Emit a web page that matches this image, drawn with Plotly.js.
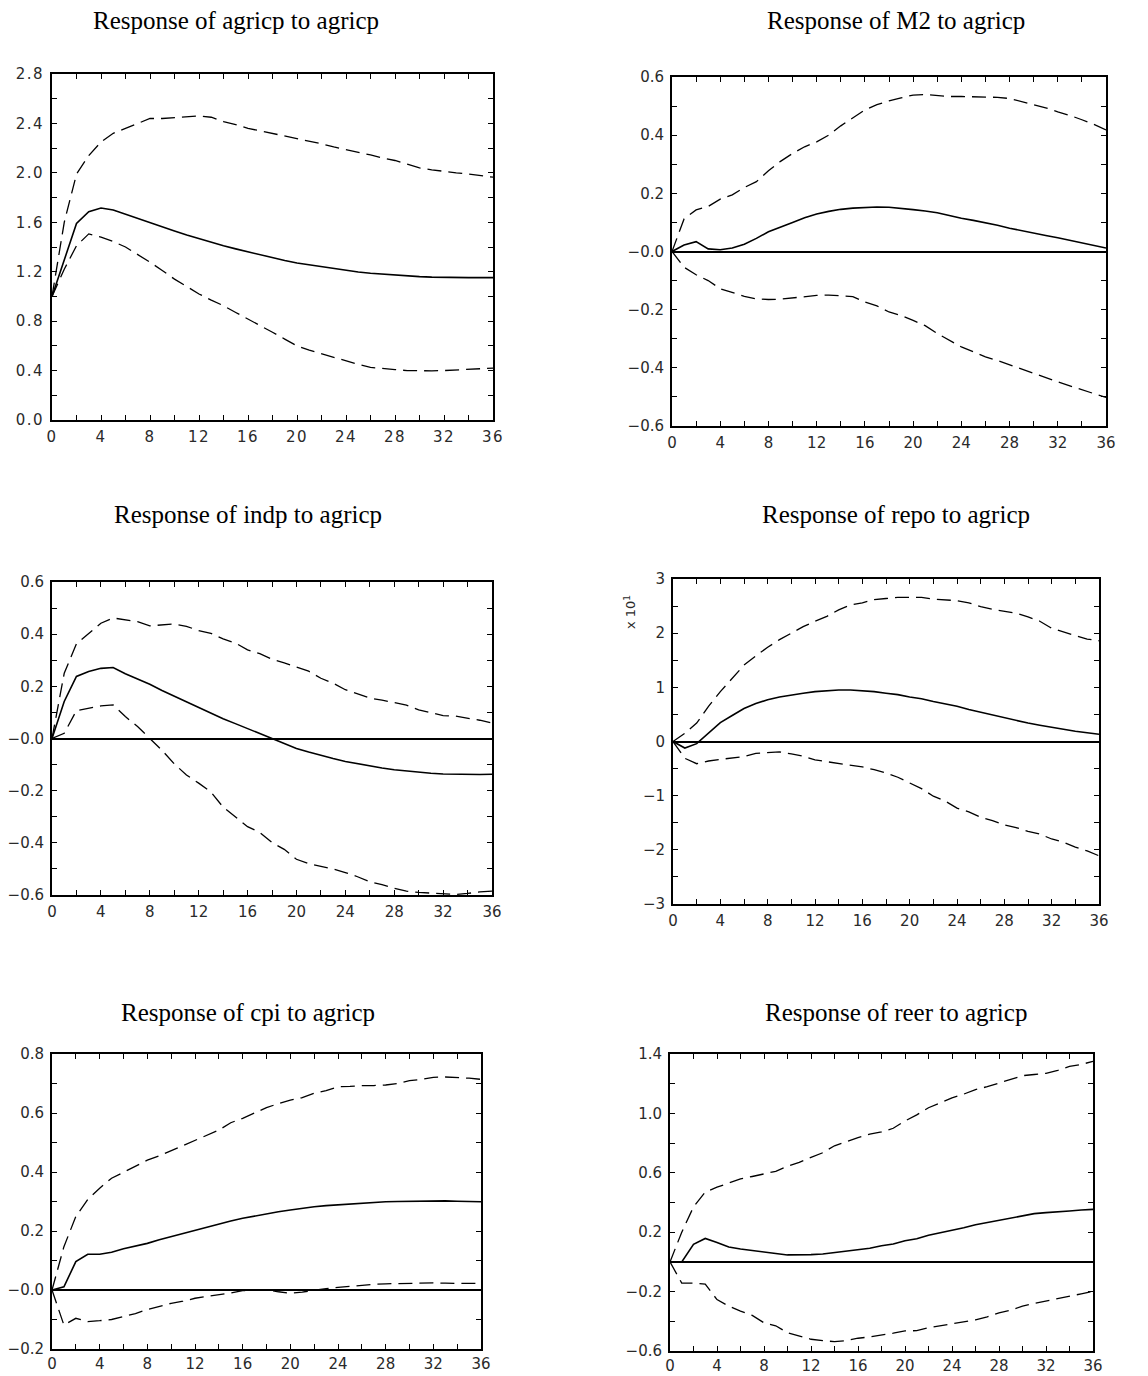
<!DOCTYPE html>
<html>
<head>
<meta charset="utf-8">
<script src="https://cdn.plot.ly/plotly-3.0.1.min.js"></script>
<style>
  html, body { margin: 0; padding: 0; background: #ffffff; }
  #chart { width: 1148px; height: 1376px; }
  #chart .xtick text, #chart .ytick text { letter-spacing: 1.5px; }
</style>
</head>
<body>
<div id="chart"></div>
<script>
// ---------------- DATA ----------------
const periods = [0,1,2,3,4,5,6,7,8,9,10,11,12,13,14,15,16,17,18,19,20,21,22,23,24,25,26,27,28,29,30,31,32,33,34,35,36];

const titles = [
  "Response of agricp to agricp",
  "Response of M2 to agricp",
  "Response of indp to agricp",
  "Response of repo to agricp",
  "Response of cpi to agricp",
  "Response of reer to agricp"
];

// agricp -> agricp
const agricpResp  = [1.0,1.30,1.59,1.685,1.715,1.70,1.665,1.632,1.60,1.565,1.53,1.497,1.466,1.44,1.41,1.385,1.36,1.335,1.31,1.29,1.27,1.255,1.24,1.225,1.21,1.198,1.188,1.18,1.173,1.166,1.16,1.156,1.153,1.152,1.152,1.152,1.152];
const agricpUpper = [1.0,1.60,1.99,2.14,2.25,2.32,2.36,2.40,2.44,2.44,2.445,2.455,2.46,2.45,2.415,2.39,2.36,2.34,2.32,2.30,2.275,2.255,2.235,2.21,2.19,2.165,2.145,2.12,2.10,2.07,2.04,2.025,2.01,2.00,1.99,1.975,1.965];
const agricpLower = [1.0,1.22,1.41,1.506,1.48,1.444,1.40,1.34,1.277,1.21,1.14,1.08,1.02,0.97,0.925,0.87,0.818,0.765,0.71,0.655,0.60,0.565,0.535,0.505,0.48,0.45,0.426,0.415,0.408,0.40,0.397,0.398,0.40,0.405,0.41,0.415,0.42];

// M2 -> agricp
const m2Resp  = [0,0.022,0.034,0.009,0.006,0.012,0.025,0.045,0.068,0.085,0.10,0.116,0.129,0.138,0.145,0.149,0.152,0.153,0.152,0.149,0.144,0.139,0.133,0.124,0.114,0.107,0.099,0.09,0.08,0.071,0.063,0.055,0.047,0.038,0.030,0.021,0.012];
const m2Upper = [0,0.112,0.143,0.155,0.18,0.195,0.22,0.24,0.278,0.31,0.337,0.36,0.377,0.40,0.432,0.46,0.487,0.505,0.518,0.528,0.538,0.54,0.537,0.533,0.533,0.532,0.531,0.530,0.526,0.515,0.506,0.494,0.48,0.468,0.453,0.437,0.418];
const m2Lower = [0,-0.054,-0.08,-0.10,-0.128,-0.142,-0.154,-0.163,-0.165,-0.164,-0.16,-0.157,-0.151,-0.15,-0.153,-0.155,-0.174,-0.187,-0.208,-0.22,-0.237,-0.255,-0.282,-0.305,-0.328,-0.345,-0.362,-0.375,-0.39,-0.404,-0.419,-0.433,-0.448,-0.462,-0.475,-0.49,-0.502];

// indp -> agricp
const indpResp  = [0,0.142,0.238,0.257,0.269,0.272,0.248,0.228,0.208,0.184,0.162,0.14,0.118,0.097,0.076,0.057,0.038,0.018,-0.002,-0.02,-0.038,-0.052,-0.065,-0.077,-0.088,-0.097,-0.106,-0.113,-0.12,-0.125,-0.13,-0.133,-0.136,-0.137,-0.138,-0.138,-0.137];
const indpUpper = [0,0.25,0.363,0.404,0.442,0.462,0.455,0.448,0.432,0.435,0.439,0.43,0.414,0.403,0.382,0.366,0.34,0.325,0.304,0.29,0.274,0.258,0.231,0.212,0.187,0.17,0.155,0.147,0.138,0.128,0.11,0.098,0.088,0.086,0.078,0.07,0.059];
const indpLower = [0,0.02,0.107,0.116,0.125,0.129,0.084,0.046,0.001,-0.045,-0.097,-0.14,-0.171,-0.205,-0.263,-0.30,-0.338,-0.36,-0.399,-0.425,-0.463,-0.48,-0.491,-0.50,-0.514,-0.53,-0.549,-0.56,-0.574,-0.585,-0.59,-0.593,-0.597,-0.598,-0.594,-0.588,-0.585];

// repo -> agricp (in units of 10^1)
const repoResp  = [0,-0.12,-0.04,0.15,0.35,0.48,0.61,0.70,0.77,0.82,0.86,0.89,0.92,0.94,0.95,0.95,0.935,0.92,0.89,0.865,0.82,0.79,0.74,0.70,0.65,0.59,0.54,0.48,0.43,0.385,0.34,0.30,0.26,0.225,0.19,0.16,0.135];
const repoUpper = [0,0.15,0.34,0.65,0.92,1.17,1.41,1.58,1.74,1.88,2.0,2.12,2.22,2.31,2.43,2.52,2.56,2.62,2.64,2.66,2.66,2.66,2.63,2.62,2.60,2.56,2.49,2.44,2.40,2.37,2.30,2.22,2.09,2.02,1.95,1.89,1.86];
const repoLower = [0,-0.31,-0.41,-0.36,-0.33,-0.31,-0.28,-0.22,-0.20,-0.19,-0.23,-0.27,-0.34,-0.37,-0.41,-0.43,-0.47,-0.52,-0.58,-0.66,-0.77,-0.87,-1.01,-1.10,-1.23,-1.30,-1.40,-1.46,-1.54,-1.59,-1.66,-1.71,-1.80,-1.86,-1.95,-2.02,-2.11];

// cpi -> agricp
const cpiResp  = [0,0.011,0.096,0.121,0.121,0.128,0.14,0.149,0.158,0.17,0.181,0.192,0.203,0.214,0.224,0.234,0.243,0.251,0.258,0.265,0.271,0.277,0.282,0.286,0.289,0.292,0.295,0.297,0.299,0.300,0.301,0.302,0.302,0.302,0.301,0.300,0.299];
const cpiUpper = [0,0.147,0.249,0.307,0.345,0.379,0.399,0.42,0.44,0.455,0.472,0.49,0.508,0.523,0.542,0.567,0.582,0.60,0.618,0.632,0.644,0.652,0.667,0.676,0.689,0.69,0.693,0.693,0.695,0.70,0.71,0.714,0.721,0.722,0.721,0.718,0.714];
const cpiLower = [0,-0.119,-0.096,-0.107,-0.104,-0.10,-0.09,-0.08,-0.066,-0.055,-0.045,-0.038,-0.028,-0.022,-0.017,-0.01,-0.002,0.0,0.0,-0.006,-0.011,-0.007,0.0,0.005,0.009,0.013,0.017,0.019,0.021,0.022,0.023,0.024,0.024,0.023,0.022,0.022,0.022];

// reer -> agricp
const reerResp  = [0,0.0,0.118,0.158,0.131,0.10,0.087,0.075,0.065,0.056,0.047,0.046,0.049,0.053,0.062,0.07,0.082,0.092,0.109,0.12,0.143,0.156,0.18,0.195,0.214,0.23,0.25,0.265,0.285,0.297,0.314,0.325,0.332,0.34,0.343,0.349,0.354];
const reerUpper = [0,0.20,0.37,0.47,0.503,0.53,0.559,0.575,0.592,0.61,0.644,0.67,0.704,0.735,0.782,0.81,0.837,0.86,0.875,0.90,0.949,0.99,1.038,1.07,1.105,1.13,1.16,1.18,1.205,1.225,1.254,1.262,1.27,1.29,1.316,1.33,1.35];
const reerLower = [0,-0.143,-0.143,-0.15,-0.254,-0.298,-0.332,-0.36,-0.41,-0.43,-0.477,-0.50,-0.521,-0.53,-0.537,-0.53,-0.514,-0.505,-0.494,-0.48,-0.465,-0.463,-0.443,-0.43,-0.416,-0.405,-0.39,-0.37,-0.343,-0.325,-0.298,-0.28,-0.265,-0.25,-0.232,-0.215,-0.198];

// tick labels
const xTickVals = [0,2,4,6,8,10,12,14,16,18,20,22,24,26,28,30,32,34,36];
const xTickText = ["0","","4","","8","","12","","16","","20","","24","","28","","32","","36"];

const yTickVals1 = [0,0.2,0.4,0.6,0.8,1.0,1.2,1.4,1.6,1.8,2.0,2.2,2.4,2.6,2.8];
const yTickText1 = ["0.0","","0.4","","0.8","","1.2","","1.6","","2.0","","2.4","","2.8"];
const yTickVals2 = [-0.6,-0.5,-0.4,-0.3,-0.2,-0.1,0,0.1,0.2,0.3,0.4,0.5,0.6];
const yTickText2 = ["\u22120.6","","\u22120.4","","\u22120.2","","\u22120.0","","0.2","","0.4","","0.6"];
const yTickVals4 = [-3,-2.5,-2,-1.5,-1,-0.5,0,0.5,1,1.5,2,2.5,3];
const yTickText4 = ["\u22123","","\u22122","","\u22121","","0","","1","","2","","3"];
const yTickVals5 = [-0.2,-0.1,0,0.1,0.2,0.3,0.4,0.5,0.6,0.7,0.8];
const yTickText5 = ["\u22120.2","","\u22120.0","","0.2","","0.4","","0.6","","0.8"];
const yTickVals6 = [-0.6,-0.4,-0.2,0,0.2,0.4,0.6,0.8,1.0,1.2,1.4];
const yTickText6 = ["\u22120.6","","\u22120.2","","0.2","","0.6","","1.0","","1.4"];

const repoScaleLabel = "x 10<sup>1</sup>";

// ---------------- LAYOUT ----------------
const W = 1148, H = 1376;
const px = v => v / W;
const py = v => 1 - v / H;

const panels = [
  {resp: agricpResp, up: agricpUpper, lo: agricpLower, x0: 52,  x1: 493,  y0: 74,   y1: 420,  yr: [0, 2.8],   tv: yTickVals1, tt: yTickText1, zero: false, tx: 236, ty: 20,   xs: 2},
  {resp: m2Resp,     up: m2Upper,     lo: m2Lower,     x0: 672, x1: 1106, y0: 77,   y1: 426,  yr: [-0.6, 0.6], tv: yTickVals2, tt: yTickText2, zero: true,  tx: 896, ty: 20,   xs: 2},
  {resp: indpResp,   up: indpUpper,   lo: indpLower,   x0: 52,  x1: 492,  y0: 582,  y1: 895,  yr: [-0.6, 0.6], tv: yTickVals2, tt: yTickText2, zero: true,  tx: 248, ty: 515,  xs: 2},
  {resp: repoResp,   up: repoUpper,   lo: repoLower,   x0: 673, x1: 1099, y0: 579,  y1: 904,  yr: [-3, 3],     tv: yTickVals4, tt: yTickText4, zero: true,  tx: 896, ty: 515,  xs: 2},
  {resp: cpiResp,    up: cpiUpper,    lo: cpiLower,    x0: 52,  x1: 481,  y0: 1054, y1: 1349, yr: [-0.2, 0.8], tv: yTickVals5, tt: yTickText5, zero: true,  tx: 248, ty: 1012, xs: 0},
  {resp: reerResp,   up: reerUpper,   lo: reerLower,   x0: 670, x1: 1093, y0: 1054, y1: 1351, yr: [-0.6, 1.4], tv: yTickVals6, tt: yTickText6, zero: true,  tx: 896, ty: 1012, xs: 0}
];

const tickFont = {family: "DejaVu Sans", size: 15, color: "#2a2a2a"};
const traces = [];
const layout = {
  width: W, height: H,
  margin: {l: 0, r: 0, t: 0, b: 0},
  paper_bgcolor: "#ffffff",
  plot_bgcolor: "#ffffff",
  showlegend: false,
  annotations: []
};

panels.forEach((p, i) => {
  const n = i + 1;
  const xa = "x" + (n === 1 ? "" : n);
  const ya = "y" + (n === 1 ? "" : n);
  const xKey = "xaxis" + (n === 1 ? "" : n);
  const yKey = "yaxis" + (n === 1 ? "" : n);

  traces.push({x: periods, y: p.up, xaxis: xa, yaxis: ya, type: "scatter", mode: "lines",
    line: {color: "#000", width: 1.3, dash: "14px,7px"}, hoverinfo: "skip"});
  traces.push({x: periods, y: p.lo, xaxis: xa, yaxis: ya, type: "scatter", mode: "lines",
    line: {color: "#000", width: 1.3, dash: "14px,7px"}, hoverinfo: "skip"});
  traces.push({x: periods, y: p.resp, xaxis: xa, yaxis: ya, type: "scatter", mode: "lines",
    line: {color: "#000", width: 1.6}, hoverinfo: "skip"});

  layout[xKey] = {
    domain: [px(p.x0), px(p.x1)], anchor: ya, range: [0, 36],
    showgrid: false, zeroline: false,
    showline: true, linecolor: "#000", linewidth: 2, mirror: "ticks",
    ticks: "inside", ticklen: 5, tickwidth: 1, tickcolor: "#000",
    tickmode: "array", tickvals: xTickVals, ticktext: xTickText,
    tickfont: tickFont, ticklabelstandoff: p.xs, fixedrange: true
  };
  layout[yKey] = {
    domain: [py(p.y1), py(p.y0)], anchor: xa, range: p.yr,
    showgrid: false, zeroline: p.zero, zerolinecolor: "#000", zerolinewidth: 2,
    showline: true, linecolor: "#000", linewidth: 2, mirror: "ticks",
    ticks: "inside", ticklen: 5, tickwidth: 1, tickcolor: "#000",
    tickmode: "array", tickvals: p.tv, ticktext: p.tt,
    tickfont: tickFont, ticklabelstandoff: 3, fixedrange: true
  };

  layout.annotations.push({
    text: titles[i], xref: "paper", yref: "paper",
    x: px(p.tx), y: py(p.ty), xanchor: "center", yanchor: "middle",
    showarrow: false, font: {family: "Liberation Serif", size: 25, color: "#000"}
  });
});

layout.annotations.push({
  text: repoScaleLabel, xref: "paper", yref: "paper",
  x: px(630), y: py(612), xanchor: "center", yanchor: "middle",
  textangle: -90, showarrow: false, font: {family: "DejaVu Sans", size: 13, color: "#2a2a2a"}
});

Plotly.newPlot("chart", traces, layout, {displayModeBar: false, staticPlot: true});
</script>
</body>
</html>
